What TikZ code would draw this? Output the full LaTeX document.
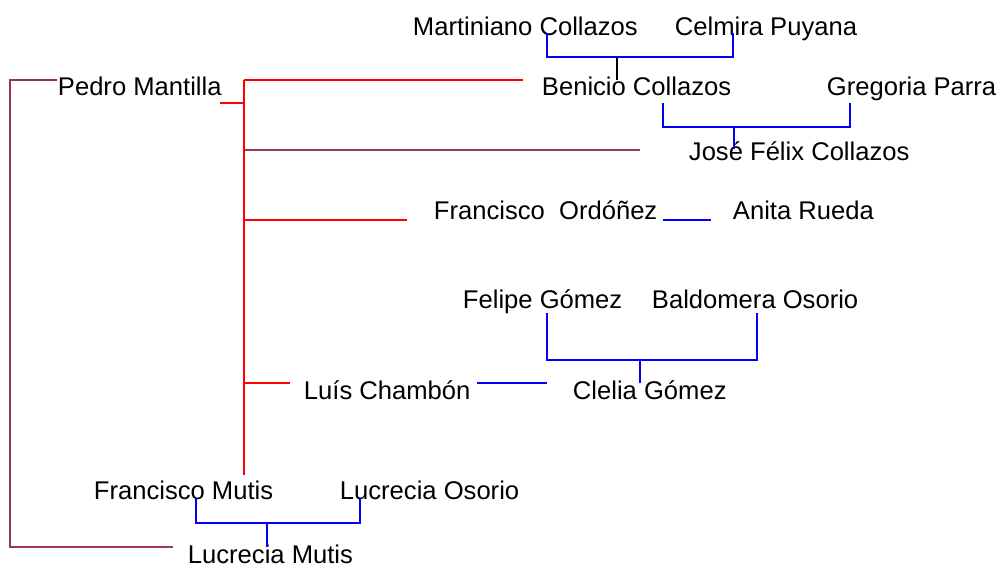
\documentclass[tikz,border=0pt]{standalone}
\usepackage{fontspec}
\setmainfont{Liberation Sans}
\usetikzlibrary{positioning}
\definecolor{kinred}{RGB}{255,0,0}
\definecolor{kinblue}{RGB}{0,0,255}
\definecolor{kinplum}{RGB}{153,51,102}

\begin{document}
\begin{tikzpicture}[x=1pt,y=-1pt,line width=1.9pt,
		person/.style={anchor=base west,inner sep=0pt,font=\fontsize{25.6}{30}\selectfont},
		blood/.style={draw=kinred},
		wed/.style={draw=kinblue},
		heir/.style={draw=kinplum}]
		\useasboundingbox (0,0) rectangle (998,568);
		
		\node[person] (MC) at (412,35)  {Martiniano Collazos};
		\node[person] (CP) at (674,35)  {Celmira Puyana};
		\node[person] (PM) at (57,95)   {Pedro Mantilla};
		\node[person] (BC) at (541,95)  {Benicio Collazos};
		\node[person] (GP) at (826,95)  {Gregoria Parra};
		\node[person] (JF) at (688,160) {José Félix Collazos};
		\node[person] (FO) at (433,219) {Francisco\ \ Ordóñez};
		\node[person] (AR) at (732,219) {Anita Rueda};
		\node[person] (FG) at (462,308) {Felipe Gómez};
		\node[person] (BO) at (651,308) {Baldomera Osorio};
		\node[person] (LC) at (303,399) {Luís Chambón};
		\node[person] (CG) at (572,399) {Clelia Gómez};
		\node[person] (FM) at (93,499)  {Francisco Mutis};
		\node[person] (LO) at (339,499) {Lucrecia Osorio};
		\node[person] (LM) at (187,563) {Lucrecia Mutis};
		
		% line ends
		\coordinate (t_top) at (244,80);  \coordinate (t_bot) at (244,475);
		\coordinate (t_pm)  at (220,103); \coordinate (t_1) at (244,103);
		\coordinate (t_2) at (244,150);   \coordinate (t_3) at (244,220);
		\coordinate (t_4) at (244,383);
		\coordinate (e_bc) at (523,80);   \coordinate (e_jf) at (640,150);
		\coordinate (e_fo) at (407,220);  \coordinate (e_lc) at (290,383);
		\coordinate (p_top) at (57,80);   \coordinate (p_bot) at (173,547);
		\coordinate (w_mc) at (547,33);   \coordinate (w_cp) at (733,33);
		\coordinate (s_mc) at (617,57);   \coordinate (c_bc) at (617,80);
		\coordinate (w_bc) at (663,103);  \coordinate (w_gp) at (850,103);
		\coordinate (s_bc) at (734,127);  \coordinate (c_jf) at (734,149);
		\coordinate (w_fo) at (663,220);  \coordinate (w_ar) at (711,220);
		\coordinate (w_fg) at (547,313);  \coordinate (w_bo) at (757,313);
		\coordinate (s_fg) at (640,360);  \coordinate (c_cg) at (640,383);
		\coordinate (w_lc) at (477,383);  \coordinate (w_cg) at (547,383);
		\coordinate (w_fm) at (196,499);  \coordinate (w_lo) at (360,499);
		\coordinate (s_fm) at (267,523);  \coordinate (c_lm) at (267,547);
		
		% descendants of Pedro Mantilla
		\path[blood] (t_top) -- (t_bot)
		(t_pm) -- (t_1)
		(t_top) -- (e_bc)
		(t_3) -- (e_fo)
		(t_4) -- (e_lc);
		\path[heir] (t_2) -- (e_jf)
		(p_top) -- (10,80) -- (10,547) -- (p_bot);
		
		% couples and children
		\path[wed] (w_mc) -- ++(0,24) -| (w_cp)
		(w_bc) -- ++(0,24) -| (w_gp)
		(s_bc) -- (c_jf)
		(w_fo) -- (w_ar)
		(w_fg) -- ++(0,47) -| (w_bo)
		(s_fg) -- (c_cg)
		(w_lc) -- (w_cg)
		(w_fm) -- ++(0,24) -| (w_lo)
		(s_fm) -- (c_lm);
		\draw (s_mc) -- (c_bc);
	\end{tikzpicture}
\end{document}
